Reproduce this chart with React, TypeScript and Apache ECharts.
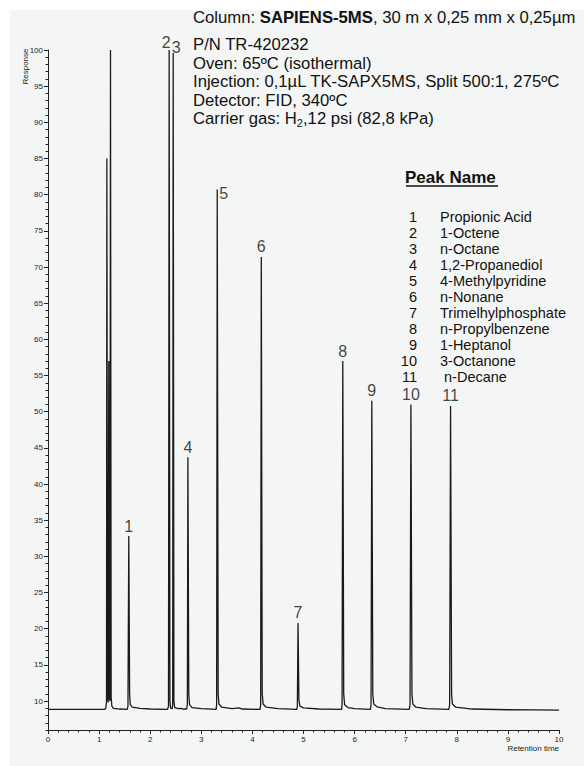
import React, { useEffect, useRef } from "react";
import * as echarts from "echarts";

// Chromatogram trace: [retention time (min), response]
const trace: [number, number][] = [
  [0, 8.85], [1.1, 8.85], [1.13, 8.95], [1.14, 9.6], [1.145, 10], [1.152, 85],
  [1.165, 10.5], [1.178, 9.8], [1.19, 57], [1.2, 10.5], [1.212, 10], [1.223, 100],
  [1.236, 10.5], [1.25, 9.3], [1.28, 9.0], [1.4, 8.9], [1.55, 8.85], [1.565, 9.3],
  [1.581, 32.8], [1.597, 11], [1.61, 9.5], [1.65, 9.15], [1.8, 9.0], [2.0, 8.9],
  [2.34, 8.85], [2.358, 9.3], [2.371, 100], [2.386, 10], [2.4, 9.0], [2.43, 8.95],
  [2.44, 9.5], [2.45, 99.6], [2.464, 10], [2.48, 9.1], [2.55, 8.95], [2.6, 9.0],
  [2.65, 8.9], [2.715, 8.9], [2.727, 9.5], [2.738, 43.7], [2.755, 11], [2.77, 9.5],
  [2.82, 9.1], [3.0, 8.95], [3.29, 8.85], [3.3, 9.5], [3.312, 80.7], [3.33, 11],
  [3.345, 9.6], [3.4, 9.15], [3.6, 8.95], [3.74, 9.05], [3.8, 8.9], [4.15, 8.85],
  [4.162, 9.5], [4.174, 71.4], [4.192, 11], [4.21, 9.6], [4.27, 9.15], [4.5, 8.95],
  [4.87, 8.85], [4.88, 9.3], [4.893, 20.8], [4.91, 10.2], [4.93, 9.3], [5.0, 9.05],
  [5.3, 8.9], [5.745, 8.85], [5.755, 9.5], [5.769, 57], [5.787, 11], [5.805, 9.5],
  [5.87, 9.1], [6.0, 8.95], [6.31, 8.85], [6.322, 9.5], [6.337, 51.5], [6.356, 11],
  [6.375, 9.6], [6.44, 9.2], [6.6, 8.95], [7.07, 8.85], [7.085, 9.5], [7.102, 51.0],
  [7.122, 11], [7.14, 9.6], [7.2, 9.15], [7.4, 8.95], [7.845, 8.85], [7.86, 9.5],
  [7.878, 50.8], [7.898, 11], [7.915, 9.6], [7.98, 9.15], [8.3, 8.9], [9.0, 8.8],
  [9.5, 8.78], [10, 8.75],
];

// Peak labels: number, apex time, apex response
const peakNumbers = ["1", "2", "3", "4", "5", "6", "7", "8", "9", "10", "11"];
const peakTimes = [1.581, 2.371, 2.45, 2.738, 3.312, 4.174, 4.893, 5.769, 6.337, 7.102, 7.878];
const peakHeights = [32.8, 100, 99.6, 43.7, 80.7, 71.4, 20.8, 57, 51.5, 51.0, 50.8];

const compoundNames = [
  "Propionic Acid", "1-Octene", "n-Octane", "1,2-Propanediol", "4-Methylpyridine",
  "n-Nonane", "Trimelhylphosphate", "n-Propylbenzene", "1-Heptanol", "3-Octanone", " n-Decane",
];

const yTickLabels = [10, 15, 20, 25, 30, 35, 40, 45, 50, 55, 60, 65, 70, 75, 80, 85, 90, 95, 100];
const xTickLabels = [0, 1, 2, 3, 4, 5, 6, 7, 8, 9, 10];

const headerLines = [
  "Column: {b|SAPIENS-5MS}, 30 m x 0,25 mm x 0,25µm",
  "P/N TR-420232",
  "Oven: 65ºC (isothermal)",
  "Injection: 0,1µL TK-SAPX5MS, Split 500:1, 275ºC",
  "Detector: FID, 340ºC",
];
const carrierParts = ["Carrier gas: H", "2", ",12 psi (82,8 kPa)"];

const FONT = "Arial, 'Liberation Sans', Helvetica, sans-serif";
const HEAD_SIZE = 16.7;
const SUB_SIZE = 11;

function measure(text: string, font: string): number {
  const c = document.createElement("canvas").getContext("2d");
  if (!c) return text.length * 8;
  c.font = font;
  return c.measureText(text).width;
}

export default function App() {
  const ref = useRef<HTMLDivElement>(null);
  useEffect(() => {
    if (!ref.current) return;
    const chart = echarts.init(ref.current, undefined, { renderer: "svg" });

    const labelOffsets: Record<string, any> = {
      "2": { position: "top", offset: [-3, 5] },
      "3": { position: "top", offset: [3, 8] },
      "5": { position: "right", offset: [0, 4], distance: 2 },
    };

    const headerY = [17, 44.5, 63, 81.5, 100, 118.5];
    const headFont = `${HEAD_SIZE}px ${FONT}`;
    const graphics: any[] = [
      {
        type: "rect",
        z: -10,
        shape: { x: 10, y: 10, width: 574, height: 756 },
        style: { fill: "#f4f6f5" },
        silent: true,
      },
      {
        type: "text",
        x: 25.5,
        y: 66.5,
        rotation: Math.PI / 2,
        style: {
          text: "Response",
          font: `8px ${FONT}`,
          fill: "#222",
          textAlign: "center",
          textVerticalAlign: "middle",
        },
      },
      {
        type: "text",
        x: 559,
        y: 748,
        style: {
          text: "Retention time",
          font: `8px ${FONT}`,
          fill: "#222",
          textAlign: "right",
          textVerticalAlign: "middle",
        },
      },
      {
        type: "text",
        x: 405,
        y: 177,
        style: {
          text: "Peak Name",
          font: `bold 17px ${FONT}`,
          fill: "#111",
          textAlign: "left",
          textVerticalAlign: "middle",
        },
      },
      {
        type: "line",
        shape: { x1: 406, y1: 186, x2: 498, y2: 186 },
        style: { stroke: "#111", lineWidth: 1.3 },
      },
    ];

    headerLines.forEach((t, i) => {
      graphics.push({
        type: "text",
        x: 193,
        y: headerY[i],
        style: {
          text: t,
          font: headFont,
          fill: "#111",
          textAlign: "left",
          textVerticalAlign: "middle",
          rich: {
            b: { fontWeight: "bold", fontSize: HEAD_SIZE, fontFamily: FONT, fill: "#111" },
          },
        },
      });
    });

    // Carrier gas line with a subscript 2
    const cy = headerY[5];
    const w0 = measure(carrierParts[0], headFont);
    const w1 = measure(carrierParts[1], `${SUB_SIZE}px ${FONT}`);
    graphics.push(
      {
        type: "text",
        x: 193,
        y: cy,
        style: { text: carrierParts[0], font: headFont, fill: "#111", textAlign: "left", textVerticalAlign: "middle" },
      },
      {
        type: "text",
        x: 193 + w0,
        y: cy + 4.5,
        style: { text: carrierParts[1], font: `${SUB_SIZE}px ${FONT}`, fill: "#111", textAlign: "left", textVerticalAlign: "middle" },
      },
      {
        type: "text",
        x: 193 + w0 + w1,
        y: cy,
        style: { text: carrierParts[2], font: headFont, fill: "#111", textAlign: "left", textVerticalAlign: "middle" },
      }
    );

    compoundNames.forEach((name, i) => {
      const y = 217 + i * 16;
      graphics.push({
        type: "text",
        x: 417,
        y,
        style: {
          text: peakNumbers[i],
          font: `14.5px ${FONT}`,
          fill: "#111",
          textAlign: "right",
          textVerticalAlign: "middle",
        },
      });
      graphics.push({
        type: "text",
        x: 440,
        y,
        style: {
          text: name,
          font: `14.5px ${FONT}`,
          fill: "#111",
          textAlign: "left",
          textVerticalAlign: "middle",
        },
      });
    });

    const peakLabelData = peakNumbers.map((n, i) => {
      const o = labelOffsets[n];
      return {
        value: [peakTimes[i], peakHeights[i]],
        name: n,
        label: o ? { ...o } : { position: "top", distance: 2 },
      };
    });

    chart.setOption({
      animation: false,
      backgroundColor: "#ffffff",
      textStyle: { fontFamily: FONT },
      grid: { left: 48, right: 25, top: 50, bottom: 36, containLabel: false },
      xAxis: {
        type: "value",
        min: 0,
        max: 10,
        interval: 1,
        axisLine: { show: true, onZero: false, lineStyle: { color: "#222", width: 1 } },
        axisTick: { show: true, length: 4, lineStyle: { color: "#222" }, customValues: xTickLabels },
        minorTick: { show: true, splitNumber: 5, length: 2.5, lineStyle: { color: "#222" } },
        axisLabel: { fontSize: 8, color: "#222", margin: 5, customValues: xTickLabels },
        splitLine: { show: false },
      },
      yAxis: [
        {
          type: "value",
          min: 6,
          max: 100,
          position: "left",
          axisLine: { show: true, onZero: false, lineStyle: { color: "#222", width: 1 } },
          axisTick: { show: true, length: 4, lineStyle: { color: "#222" }, customValues: yTickLabels },
          axisLabel: { fontSize: 8, color: "#222", margin: 5, customValues: yTickLabels },
          splitLine: { show: false },
        },
        {
          type: "value",
          min: 6,
          max: 100,
          interval: 1,
          position: "left",
          offset: 0,
          axisLine: { show: false },
          axisTick: { show: true, length: 2.5, lineStyle: { color: "#222" } },
          axisLabel: { show: false },
          splitLine: { show: false },
        },
      ],
      series: [
        {
          type: "line",
          data: trace,
          showSymbol: false,
          symbol: "none",
          lineStyle: { color: "#1a1a1a", width: 1.3 },
          z: 3,
        },
        {
          type: "scatter",
          data: peakLabelData,
          symbolSize: 0,
          silent: true,
          label: {
            show: true,
            formatter: (p: any) => p.name,
            fontSize: 16,
            fontFamily: "'Liberation Sans Narrow', Arial, sans-serif",
            color: "#111",
          },
          z: 4,
        },
      ],
      graphic: graphics,
    });
    return () => chart.dispose();
  }, []);
  return (
    <div
      ref={ref}
      style={{ position: "absolute", left: 0, top: 0, width: 584, height: 766 }}
    />
  );
}
